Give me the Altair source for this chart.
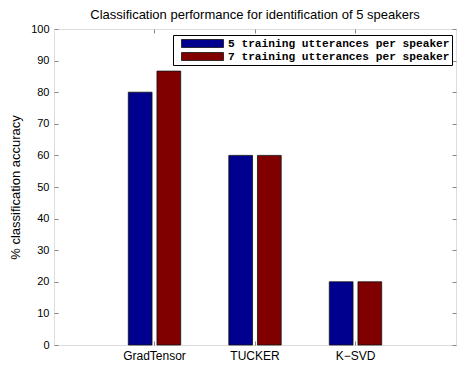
import altair as alt
import pandas as pd

categories = ["GradTensor", "TUCKER", "K\u2212SVD"]
series = ["5 training utterances per speaker", "7 training utterances per speaker"]
acc_5 = [80, 60, 20]
acc_7 = [86.67, 60, 20]
colors = ["#00008F", "#800000"]

rows = []
for c, v in zip(categories, acc_5):
    rows.append({"method": c, "series": series[0], "acc": v})
for c, v in zip(categories, acc_7):
    rows.append({"method": c, "series": series[1], "acc": v})
df = pd.DataFrame(rows)

FONT = "Liberation Sans"

xscale = alt.Scale(domain=categories, paddingInner=0.4, paddingOuter=0.7)
yscale = alt.Scale(domain=[0, 100], nice=False)
offscale = alt.Scale(domain=series, paddingInner=0.172, paddingOuter=0.138)

bars = alt.Chart(df).mark_bar(stroke="#111111", strokeWidth=0.8).encode(
    x=alt.X("method:N", scale=xscale, sort=categories,
            axis=alt.Axis(title=None, orient="bottom", labelAngle=0, offset=-4,
                          tickSize=4, labelPadding=5, domain=False,
                          labelFontSize=12)),
    xOffset=alt.XOffset("series:N", scale=offscale, sort=series),
    y=alt.Y("acc:Q", scale=yscale,
            axis=alt.Axis(title="% classification accuracy", orient="left",
                          values=list(range(0, 101, 10)), offset=-4, tickSize=4,
                          labelPadding=5, titlePadding=8, domain=False, grid=False,
                          labelFontSize=11, titleFontSize=13,
                          titleFontWeight="normal", titleFont=FONT)),
    color=alt.Color("series:N", scale=alt.Scale(domain=series, range=colors),
                    legend=alt.Legend(title=None, orient="none", legendX=119, legendY=6,
                                      strokeColor="black", fillColor="white", padding=2,
                                      symbolType="M-1,-0.19H1V0.19H-1Z", symbolSize=1764,
                                      symbolStrokeColor="#111111", symbolStrokeWidth=0.8,
                                      symbolOffset=6, labelOffset=4, clipHeight=13,
                                      rowPadding=0, labelFont="Liberation Mono",
                                      labelFontWeight="bold", labelFontSize=11.2,
                                      labelColor="black", labelLimit=400)),
)

mirror = alt.Chart(df).mark_bar(opacity=0).encode(
    x=alt.X("method:N", scale=xscale, sort=categories,
            axis=alt.Axis(title=None, orient="top", labels=False, offset=-4,
                          tickSize=4, domain=False)),
    xOffset=alt.XOffset("series:N", scale=offscale, sort=series),
    y=alt.Y("acc:Q", scale=yscale,
            axis=alt.Axis(title=None, orient="right", labels=False,
                          values=list(range(0, 101, 10)), offset=-4, tickSize=4,
                          domain=False, grid=False)),
)

chart = alt.layer(bars, mirror).resolve_axis(x="independent", y="independent").properties(
    width=402, height=316,
    autosize=alt.AutoSizeParams(type="none"),
    padding={"left": 46, "top": 21, "right": 1, "bottom": 16},
    title=alt.TitleParams("Classification performance for identification of 5 speakers",
                          font=FONT, fontSize=13, fontWeight="normal", color="black",
                          anchor="middle", offset=1),
).configure_view(stroke="black", strokeWidth=1).configure_axis(
    labelFont=FONT, labelColor="black", tickColor="black",
    titleFont=FONT, titleFontWeight="normal", titleColor="black",
).configure(background="white")

chart.save("out.html", embed_options={"renderer": "svg", "actions": False})
